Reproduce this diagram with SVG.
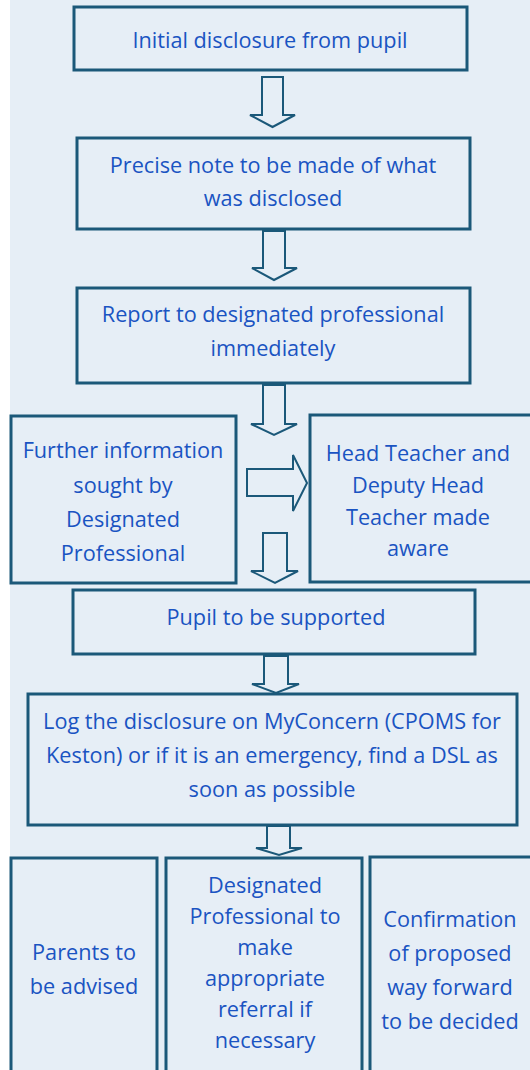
<svg xmlns="http://www.w3.org/2000/svg" width="530" height="1070" viewBox="0 0 530 1070">
<style>
.bg{fill:#e6eef6}
.box{fill:#e6eef6;stroke:#1b5879;stroke-width:3}
.arr{fill:#e6eef6;stroke:#1b5879;stroke-width:2;stroke-linejoin:miter}
.t{font-family:"Open Sans","Noto Sans","Liberation Sans",sans-serif;font-size:21.7px;fill:#1a54c2;text-anchor:middle;dominant-baseline:central}
</style>
<rect x="0" y="0" width="530" height="1070" fill="#ffffff"/>
<rect class="bg" x="10" y="0" width="520" height="1070"/>

<g id="connectors">
<path class="arr" d="M262,77 H283 V115 H295 L272.5,127 L250,115 H262 Z"/>
<path class="arr" d="M263,231 H285 V268 H297 L274,280 L252,268 H263 Z"/>
<path class="arr" d="M263,385 H285 V424 H297 L274,435 L251,424 H263 Z"/>
<path class="arr" d="M247,469 H293 V455 L307,483 L293,511 V496 H247 Z"/>
<path class="arr" d="M263,533 H287 V571 H298 L275,583 L251,571 H263 Z"/>
<path class="arr" d="M264,656 H288 V684 H299 L276,693 L252,684 H264 Z"/>
<path class="arr" d="M267,826 H290 V848 H302 L279,855 L256,848 H267 Z"/>
</g>

<g id="n1">
<rect class="box" x="74" y="7" width="393" height="63"/>
<text class="t" x="270" y="39">Initial disclosure from pupil</text>
</g>
<g id="n2">
<rect class="box" x="77" y="138" width="393" height="91"/>
<text class="t" x="273" y="164">Precise note to be made of what</text>
<text class="t" x="273" y="197">was disclosed</text>
</g>
<g id="n3">
<rect class="box" x="77" y="288" width="393" height="95"/>
<text class="t" x="273" y="313">Report to designated professional</text>
<text class="t" x="273" y="347">immediately</text>
</g>
<g id="n4">
<rect class="box" x="11" y="416" width="225" height="167"/>
<text class="t" x="123" y="449">Further information</text>
<text class="t" x="123" y="484">sought by</text>
<text class="t" x="123" y="518">Designated</text>
<text class="t" x="123" y="552">Professional</text>
</g>
<g id="n5">
<rect class="box" x="310" y="415" width="225" height="167"/>
<text class="t" x="418" y="452">Head Teacher and</text>
<text class="t" x="418" y="484">Deputy Head</text>
<text class="t" x="418" y="516">Teacher made</text>
<text class="t" x="418" y="547">aware</text>
</g>
<g id="n6">
<rect class="box" x="73" y="590" width="402" height="64"/>
<text class="t" x="276" y="616">Pupil to be supported</text>
</g>
<g id="n7">
<rect class="box" x="28" y="694" width="489" height="131"/>
<text class="t" x="272" y="720">Log the disclosure on MyConcern (CPOMS for</text>
<text class="t" x="272" y="754">Keston) or if it is an emergency, find a DSL as</text>
<text class="t" x="272" y="788">soon as possible</text>
</g>
<g id="n8">
<rect class="box" x="11" y="858" width="146" height="220"/>
<text class="t" x="84" y="951">Parents to</text>
<text class="t" x="84" y="985">be advised</text>
</g>
<g id="n9">
<rect class="box" x="166" y="858" width="196" height="220"/>
<text class="t" x="265" y="884">Designated</text>
<text class="t" x="265" y="915">Professional to</text>
<text class="t" x="265" y="946">make</text>
<text class="t" x="265" y="977">appropriate</text>
<text class="t" x="265" y="1008">referral if</text>
<text class="t" x="265" y="1039">necessary</text>
</g>
<g id="n10">
<rect class="box" x="370" y="857" width="170" height="220"/>
<text class="t" x="450" y="918">Confirmation</text>
<text class="t" x="450" y="952">of proposed</text>
<text class="t" x="450" y="986">way forward</text>
<text class="t" x="450" y="1020">to be decided</text>
</g>
</svg>
